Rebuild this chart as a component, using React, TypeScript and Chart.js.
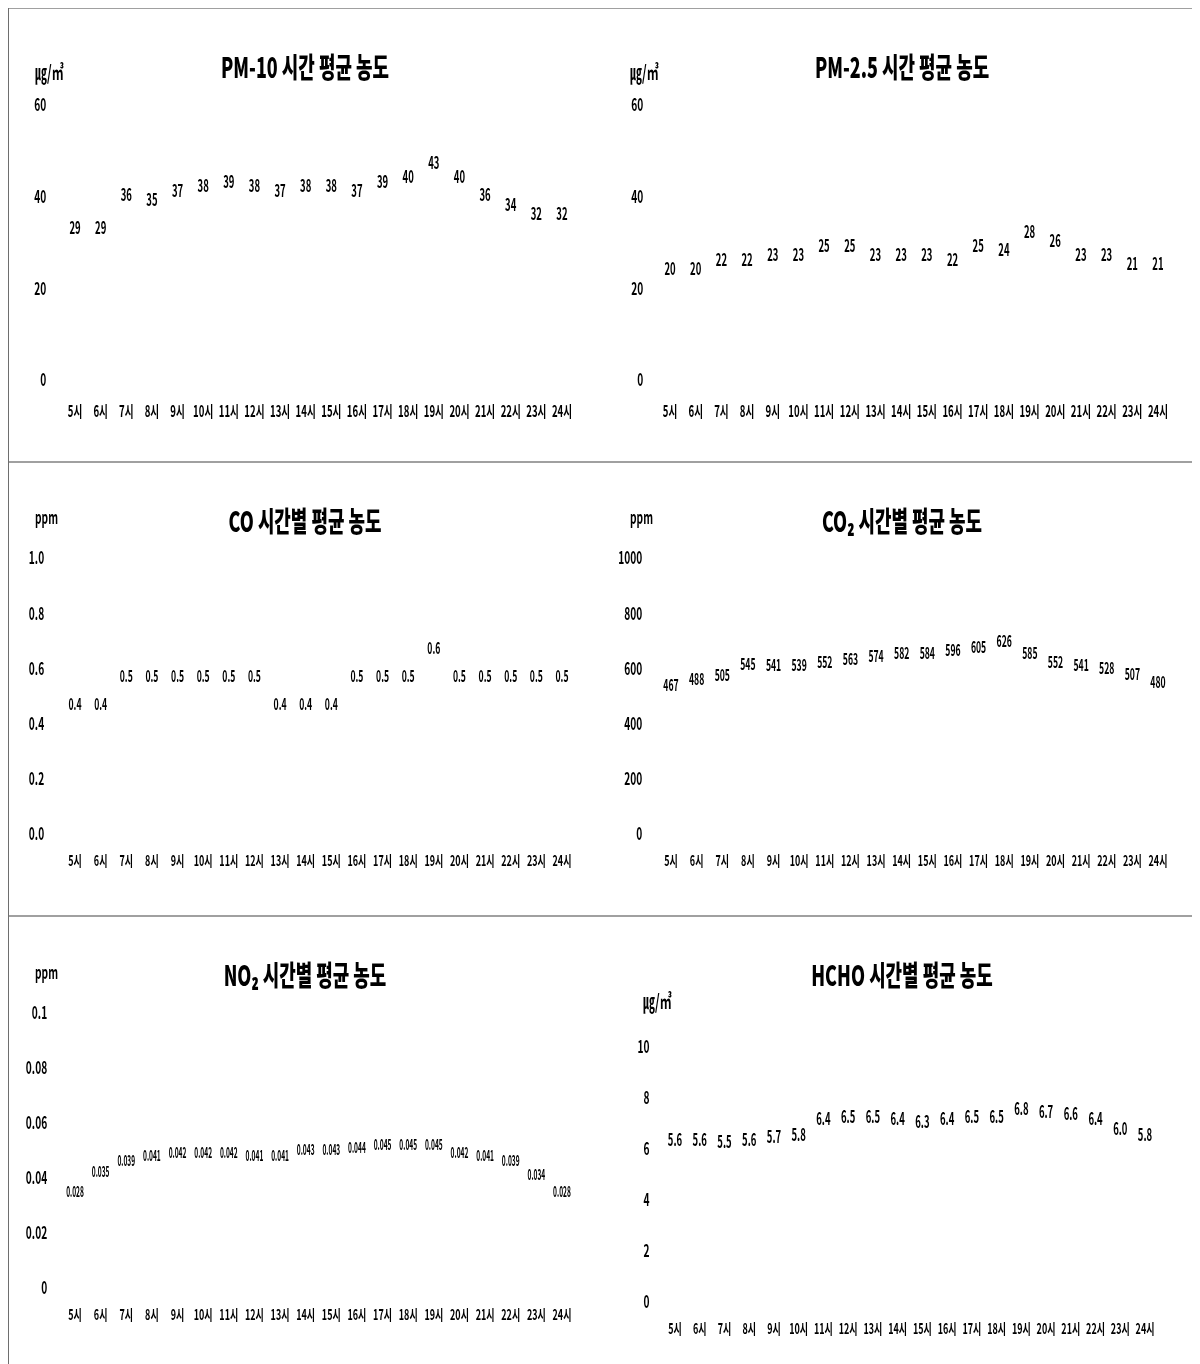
import React, { useEffect, useRef } from 'react';
import { Chart, registerables } from 'chart.js';

Chart.register(...registerables);

// ---------- data ----------
const hours = ['5시', '6시', '7시', '8시', '9시', '10시', '11시', '12시', '13시', '14시', '15시', '16시', '17시', '18시', '19시', '20시', '21시', '22시', '23시', '24시'];

const pm10 = [29, 29, 36, 35, 37, 38, 39, 38, 37, 38, 38, 37, 39, 40, 43, 40, 36, 34, 32, 32];
const pm25 = [20, 20, 22, 22, 23, 23, 25, 25, 23, 23, 23, 22, 25, 24, 28, 26, 23, 23, 21, 21];
const co = [0.4, 0.4, 0.5, 0.5, 0.5, 0.5, 0.5, 0.5, 0.4, 0.4, 0.4, 0.5, 0.5, 0.5, 0.6, 0.5, 0.5, 0.5, 0.5, 0.5];
const co2 = [467, 488, 505, 545, 541, 539, 552, 563, 574, 582, 584, 596, 605, 626, 585, 552, 541, 528, 507, 480];
const no2 = [0.028, 0.035, 0.039, 0.041, 0.042, 0.042, 0.042, 0.041, 0.041, 0.043, 0.043, 0.044, 0.045, 0.045, 0.045, 0.042, 0.041, 0.039, 0.034, 0.028];
const hcho = [5.6, 5.6, 5.5, 5.6, 5.7, 5.8, 6.4, 6.5, 6.5, 6.4, 6.3, 6.4, 6.5, 6.5, 6.8, 6.7, 6.6, 6.4, 6.0, 5.8];

const pmTicks = [0, 20, 40, 60];
const pmTickLabels = ['0', '20', '40', '60'];
const coTicks = [0, 0.2, 0.4, 0.6, 0.8, 1.0];
const coTickLabels = ['0.0', '0.2', '0.4', '0.6', '0.8', '1.0'];
const co2Ticks = [0, 200, 400, 600, 800, 1000];
const co2TickLabels = ['0', '200', '400', '600', '800', '1000'];
const no2Ticks = [0, 0.02, 0.04, 0.06, 0.08, 0.1];
const no2TickLabels = ['0', '0.02', '0.04', '0.06', '0.08', '0.1'];
const hchoTicks = [0, 2, 4, 6, 8, 10];
const hchoTickLabels = ['0', '2', '4', '6', '8', '10'];

const titles = ['PM-10 시간 평균 농도', 'PM-2.5 시간 평균 농도', 'CO 시간별 평균 농도', 'CO₂ 시간별 평균 농도', 'NO₂ 시간별 평균 농도', 'HCHO 시간별 평균 농도'];
const units = ['㎍/㎥', '㎍/㎥', 'ppm', 'ppm', 'ppm', '㎍/㎥'];

// ---------- layout / style ----------
const FONT = "'Noto Sans CJK KR', 'Noto Sans', sans-serif";
const SX = 0.6;
const W = 'bold';

type PanelCfg = {
  values: number[];
  ticks: number[];
  tickLabels: string[];
  decimals: number;
  title: string;
  unit: string;
  unitSize: number;
  labelSize: number;
  labelSX: number;
  left: number;
  top: number;
  w: number;
  h: number;
  pad: { left: number; right: number; top: number; bottom: number };
  yPad: number;
  xPad: number;
  xSize: number;
  unitX: number;
  unitY: number;
};

const panels: PanelCfg[] = [
  { values: pm10, ticks: pmTicks, tickLabels: pmTickLabels, decimals: 0, title: titles[0], unit: units[0], unitSize: 20, labelSize: 17, labelSX: 0.56,
    left: 0, top: 0, w: 596, h: 454, pad: { left: 15.2, right: 28.2, top: 97, bottom: 32 }, yPad: 16, xPad: 21, xSize: 16, unitX: 28, unitY: 64 },
  { values: pm25, ticks: pmTicks, tickLabels: pmTickLabels, decimals: 0, title: titles[1], unit: units[1], unitSize: 20, labelSize: 17, labelSX: 0.56,
    left: 597, top: 0, w: 596, h: 454, pad: { left: 13.2, right: 29.2, top: 97, bottom: 32 }, yPad: 14, xPad: 21, xSize: 16, unitX: 26, unitY: 64 },
  { values: co, ticks: coTicks, tickLabels: coTickLabels, decimals: 1, title: titles[2], unit: units[2], unitSize: 17, labelSize: 16, labelSX: 0.54,
    left: 0, top: 454, w: 596, h: 454, pad: { left: 15.2, right: 28.2, top: 96, bottom: 32 }, yPad: 18, xPad: 17, xSize: 15, unitX: 28, unitY: 56 },
  { values: co2, ticks: co2Ticks, tickLabels: co2TickLabels, decimals: 0, title: titles[3], unit: units[3], unitSize: 17, labelSize: 16, labelSX: 0.54,
    left: 597, top: 454, w: 596, h: 454, pad: { left: 14.2, right: 29.2, top: 96, bottom: 32 }, yPad: 16, xPad: 17, xSize: 15, unitX: 26, unitY: 56 },
  { values: no2, ticks: no2Ticks, tickLabels: no2TickLabels, decimals: 3, title: titles[4], unit: units[4], unitSize: 17, labelSize: 15, labelSX: 0.44,
    left: 0, top: 908, w: 596, h: 448, pad: { left: 15.2, right: 28.2, top: 97, bottom: 26 }, yPad: 15, xPad: 17, xSize: 15, unitX: 28, unitY: 57 },
  { values: hcho, ticks: hchoTicks, tickLabels: hchoTickLabels, decimals: 1, title: titles[5], unit: units[5], unitSize: 20, labelSize: 17, labelSX: 0.56,
    left: 597, top: 908, w: 596, h: 448, pad: { left: 18.6, right: 42.6, top: 131, bottom: 12 }, yPad: 13, xPad: 17, xSize: 15, unitX: 39, unitY: 85 },
];

function Panel({ cfg }: { cfg: PanelCfg }) {
  const ref = useRef<HTMLCanvasElement>(null);
  useEffect(() => {
    const canvas = ref.current;
    if (!canvas) return;

    const condense = {
      id: 'condense',
      beforeDraw(chart: any) {
        const ctx = chart.ctx as any;
        ctx.__sx = SX;
        if (ctx.__condensed) return;
        const orig = ctx.fillText.bind(ctx);
        ctx.fillText = function (t: string, x: number, y: number, mw?: number) {
          const sx = ctx.__sx || SX;
          ctx.save();
          ctx.translate(x, y);
          ctx.scale(sx, 1);
          if (mw === undefined) orig(t, 0, 0);
          else orig(t, 0, 0, mw / sx);
          ctx.restore();
        };
        ctx.__condensed = true;
      },
    };

    const overlay = {
      id: 'overlay',
      afterDatasetsDraw(chart: any) {
        const ctx = chart.ctx;
        const meta = chart.getDatasetMeta(0);
        ctx.save();
        ctx.__sx = cfg.labelSX;
        ctx.fillStyle = '#000';
        ctx.font = `${W} ${cfg.labelSize}px ${FONT}`;
        ctx.textAlign = 'center';
        ctx.textBaseline = 'middle';
        meta.data.forEach((pt: any, i: number) => {
          const v = cfg.values[i];
          ctx.fillText(v.toFixed(cfg.decimals), pt.x, pt.y - 20);
        });
        ctx.__sx = SX;
        ctx.restore();
      },
      afterDraw(chart: any) {
        const ctx = chart.ctx;
        ctx.save();
        ctx.fillStyle = '#000';
        ctx.__sx = 0.64;
        ctx.font = `900 28px ${FONT}`;
        ctx.textAlign = 'center';
        ctx.textBaseline = 'middle';
        ctx.fillText(cfg.title, cfg.w / 2, 59.5);
        ctx.__sx = 0.6;
        ctx.font = `${W} ${cfg.unitSize}px ${FONT}`;
        ctx.textAlign = 'left';
        ctx.fillText(cfg.unit, cfg.unitX, cfg.unitY);
        ctx.__sx = SX;
        ctx.restore();
      },
    };

    const chart = new Chart(canvas, {
      type: 'line',
      data: {
        labels: hours,
        datasets: [
          {
            data: cfg.values,
            showLine: false,
            pointRadius: 0,
            pointHoverRadius: 0,
            borderColor: 'rgba(0,0,0,0)',
            backgroundColor: 'rgba(0,0,0,0)',
          },
        ],
      },
      options: {
        responsive: false,
        animation: false,
        events: [],
        layout: { padding: cfg.pad },
        plugins: {
          legend: { display: false },
          tooltip: { enabled: false },
          title: { display: false },
        },
        scales: {
          x: {
            type: 'category',
            offset: true,
            grid: { display: false, drawTicks: false },
            border: { display: false },
            ticks: {
              autoSkip: false,
              maxRotation: 0,
              minRotation: 0,
              padding: cfg.xPad,
              color: '#000',
              font: { family: FONT, size: cfg.xSize, weight: W },
            },
            afterFit: (s: any) => {
              s.height = 50;
            },
          },
          y: {
            min: cfg.ticks[0],
            max: cfg.ticks[cfg.ticks.length - 1],
            grid: { display: false, drawTicks: false },
            border: { display: false },
            afterBuildTicks: (s: any) => {
              s.ticks = cfg.ticks.map((v) => ({ value: v }));
            },
            ticks: {
              padding: cfg.yPad,
              color: '#000',
              font: { family: FONT, size: 17, weight: W },
              callback: (v: any) => {
                const idx = cfg.ticks.findIndex((t) => Math.abs(t - Number(v)) < 1e-9);
                return idx >= 0 ? cfg.tickLabels[idx] : String(v);
              },
            },
            afterFit: (s: any) => {
              s.width = 40;
            },
          },
        },
      },
      plugins: [condense, overlay],
    } as any);
    return () => chart.destroy();
  }, [cfg]);

  return (
    <canvas
      ref={ref}
      width={cfg.w}
      height={cfg.h}
      style={{ position: 'absolute', left: cfg.left, top: cfg.top, width: cfg.w, height: cfg.h }}
    />
  );
}

export default function App() {
  return (
    <div style={{ position: 'relative', width: 1200, height: 1356, marginLeft: -1, background: '#fff' }}>
      {panels.map((p, i) => (
        <Panel key={i} cfg={p} />
      ))}
      <div style={{ position: 'absolute', left: 0, top: -1, width: 1200, height: 2, background: '#a0a0a0' }} />
      <div style={{ position: 'absolute', left: 0, top: 453, width: 1200, height: 2, background: '#a0a0a0' }} />
      <div style={{ position: 'absolute', left: 0, top: 907, width: 1200, height: 2, background: '#a0a0a0' }} />
      <div style={{ position: 'absolute', left: 0, top: -1, width: 2, height: 1357, background: '#6e6e6e' }} />
    </div>
  );
}
